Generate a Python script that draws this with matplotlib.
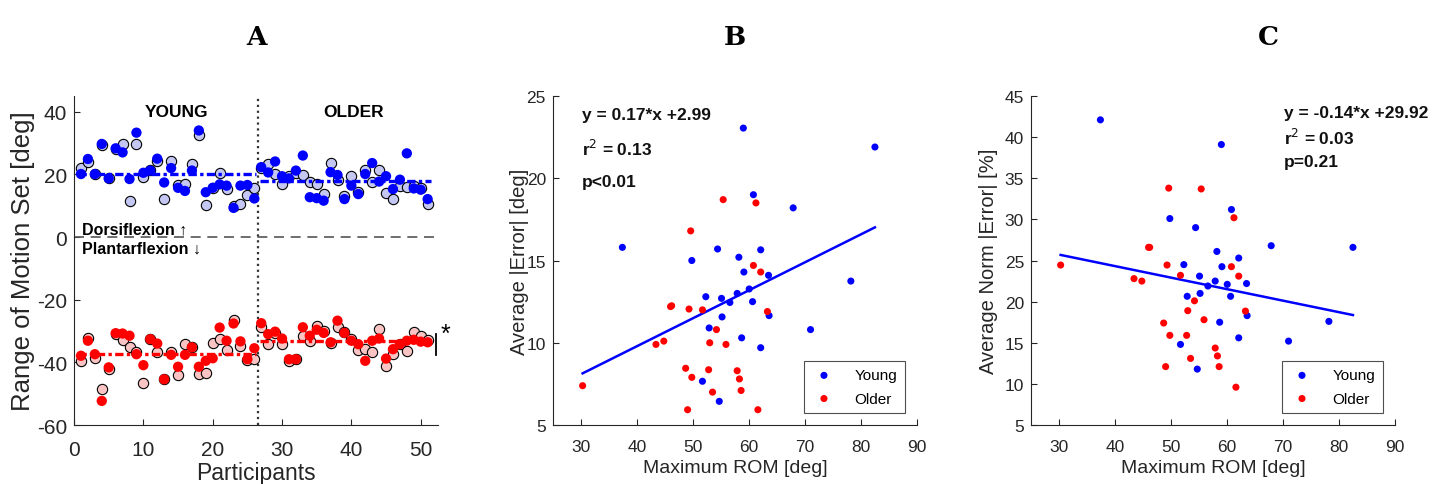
import numpy as np
import matplotlib
matplotlib.use('Agg')
import matplotlib.pyplot as plt

plt.rcParams['font.family'] = ['Liberation Sans', 'DejaVu Sans']
plt.rcParams['axes.unicode_minus'] = False

# ---- panel A data (participants 1-26 young, 27-51 older)
participants = np.arange(1, 52)
dorsi_solid = [20.1, 24.9, 20.1, 29.7, 18.7, 28.3, 27.0, 18.5, 33.3, 20.5,
               21.2, 25.0, 17.4, 22.0, 15.7, 14.7, 21.2, 34.0, 14.3, 15.7,
               16.8, 16.4, 9.3, 16.4, 16.6, 12.3,
               22.3, 20.6, 24.1, 19.4, 18.7, 21.2, 26.0, 12.7, 12.4, 11.6,
               20.7, 19.8, 12.1, 16.4, 13.7, 20.1, 23.6, 17.7, 19.4, 15.3,
               18.3, 26.7, 15.5, 15.1, 12.1]
dorsi_light = [21.9, 23.9, 20.0, 29.5, 18.9, 28.0, 29.7, 11.4, 29.8, 19.0,
               21.3, 24.4, 12.1, 24.4, 16.7, 16.9, 23.3, 32.6, 10.1, 15.8,
               20.4, 15.3, 9.8, 10.6, 13.4, 15.7,
               22.0, 23.3, 20.1, 16.9, 19.4, 20.3, 19.8, 17.7, 16.9, 13.7,
               23.6, 18.3, 13.0, 19.6, 14.5, 21.5, 17.5, 21.5, 14.0, 12.1,
               16.4, 16.0, 16.4, 15.5, 10.5]
plantar_solid = [-37.9, -33.1, -37.4, -52.3, -41.6, -30.7, -30.8, -31.5, -37.4, -40.9,
                 -32.6, -34.0, -45.4, -37.6, -41.4, -37.6, -35.2, -41.4, -39.5, -38.7,
                 -28.9, -33.1, -27.6, -33.3, -39.0, -35.5,
                 -27.5, -31.0, -30.2, -32.4, -39.0, -39.0, -28.8, -31.5, -29.6, -30.6,
                 -33.6, -26.7, -30.6, -33.1, -34.2, -39.5, -33.1, -32.4, -38.8, -35.8,
                 -34.2, -33.1, -32.8, -33.4, -33.6]
plantar_light = [-39.5, -32.1, -38.7, -48.6, -42.2, -30.9, -32.9, -35.0, -36.8, -46.7,
                 -32.4, -36.6, -45.2, -36.6, -44.0, -34.0, -35.0, -43.8, -43.5, -33.9,
                 -32.4, -36.0, -26.5, -34.7, -39.2, -39.0,
                 -28.8, -34.2, -30.5, -34.2, -39.5, -38.8, -31.7, -33.1, -28.5, -29.9,
                 -33.8, -28.8, -30.4, -32.6, -36.0, -35.8, -36.8, -29.2, -41.3, -37.4,
                 -34.0, -36.3, -30.2, -31.5, -32.8]
dorsi_means = [20.0, 17.8]        # young, older
plantar_means = [-37.2, -33.1]
group_split = 26.5

# ---- panels B/C data
young_rom = [59.0, 60.8, 67.9, 37.4, 49.8, 54.4, 58.2, 62.1, 59.1, 63.5, 60.05, 52.3, 55.1,
             57.9, 60.65, 56.6, 55.2, 63.6, 52.9, 58.7, 62.1, 51.7, 54.7, 82.5, 71.0, 78.2]
young_err = [23.05, 19.0, 18.2, 15.8, 15.0, 15.7, 15.2, 15.65, 14.3, 14.1, 13.27, 12.8, 12.7,
             13.0, 12.5, 12.45, 11.57, 11.65, 10.9, 10.3, 9.7, 7.66, 6.44, 21.9, 10.8, 13.75]
young_norm = [39.1, 31.2, 26.8, 42.1, 30.1, 29.0, 26.1, 25.3, 24.25, 22.2, 22.1, 24.5, 23.1,
              22.5, 20.65, 21.9, 21.0, 18.3, 20.65, 17.5, 15.6, 14.8, 11.8, 26.6, 15.2, 17.6]
older_rom = [55.4, 61.25, 49.6, 60.8, 62.1, 46.0, 46.2, 49.3, 51.7, 63.3, 54.2, 43.4, 44.8,
             53.0, 55.9, 48.7, 52.8, 57.9, 49.8, 58.3, 53.5, 58.6, 49.05, 61.6, 30.3]
older_err = [18.7, 18.5, 16.8, 14.7, 14.3, 12.2, 12.25, 12.05, 12.0, 11.9, 10.8, 9.9, 10.1,
             10.0, 9.9, 8.45, 8.36, 8.3, 7.9, 7.8, 7.0, 7.1, 5.93, 5.93, 7.39]
older_norm = [33.7, 30.2, 33.8, 24.25, 23.1, 26.6, 26.6, 24.45, 23.2, 18.85, 20.1, 22.8, 22.5,
              18.9, 17.8, 17.4, 15.9, 14.36, 15.9, 13.4, 13.1, 12.1, 12.1, 9.6, 24.45]
fit_b = (0.17, 2.99)
fit_c = (-0.14, 29.92)

DARK = '#262626'
LIGHT_BLUE = '#c4c7f2'
LIGHT_RED = '#fbc4c4'


def style(ax, fs, xpad):
    for s in ['top', 'right']:
        ax.spines[s].set_visible(False)
    for s in ['left', 'bottom']:
        ax.spines[s].set_color(DARK)
        ax.spines[s].set_linewidth(0.8)
    ax.tick_params(direction='in', length=4, colors=DARK, labelsize=fs, pad=5)
    ax.tick_params(axis='x', pad=xpad)


fig = plt.figure(figsize=(14.49, 4.85), dpi=100)

# ---------------- panel A
axA = fig.add_axes([0.0511, 0.1216, 0.2512, 0.6784])
axA.scatter(participants, dorsi_light, s=55, c=LIGHT_BLUE, edgecolors='k', linewidths=0.8, zorder=3)
axA.scatter(participants, dorsi_solid, s=55, c='blue', edgecolors='none', zorder=4)
axA.scatter(participants, plantar_light, s=55, c=LIGHT_RED, edgecolors='k', linewidths=0.8, zorder=3)
axA.scatter(participants, plantar_solid, s=55, c='red', edgecolors='none', zorder=4)
mdash = (0, (2.5, 1, 1, 1))
axA.plot([0.5, 26.2], [dorsi_means[0]] * 2, color='blue', lw=2.4, ls=mdash, zorder=5)
axA.plot([26.8, 51.5], [dorsi_means[1]] * 2, color='blue', lw=2.4, ls=mdash, zorder=5)
axA.plot([0.5, 26.2], [plantar_means[0]] * 2, color='red', lw=2.4, ls=mdash, zorder=5)
axA.plot([26.8, 51.5], [plantar_means[1]] * 2, color='red', lw=2.4, ls=mdash, zorder=5)
axA.axvline(group_split, color='#333333', ls=':', lw=1.6, zorder=2)
axA.axhline(0, color='#555555', ls=(0, (6, 4)), lw=1.2, zorder=2)
axA.plot([52.2, 52.2], [-37.6, -31.0], color='k', lw=1.3, clip_on=False)
axA.text(52.9, -30.8, '*', fontsize=18, ha='left', va='center', clip_on=False)
axA.text(14.8, 40, 'YOUNG', fontsize=12.5, fontweight='bold', ha='center', va='center')
axA.text(40.3, 40, 'OLDER', fontsize=12.5, fontweight='bold', ha='center', va='center')
axA.text(1.2, 2.6, 'Dorsiflexion \u2191', fontsize=11.5, fontweight='bold', ha='left', va='center')
axA.text(1.2, -3.6, 'Plantarflexion \u2193', fontsize=11.5, fontweight='bold', ha='left', va='center')
axA.set_xlim(0, 52.5)
axA.set_ylim(-60, 45)
axA.set_xticks(np.arange(0, 51, 10))
axA.set_yticks(np.arange(-60, 41, 20))
style(axA, 15, 11)
axA.set_xlabel('Participants', fontsize=16.5, color=DARK, labelpad=1.5)
axA.set_ylabel('Range of Motion Set [deg]', fontsize=18.5, color=DARK)
axA.yaxis.set_label_coords(-0.108, 0.5)


def scatter_panel(rect, young_y, older_y, fit, ylim, yticks, ylabel, lines, text_xy, step, ylab_x):
    ax = fig.add_axes(rect)
    ax.scatter(young_rom, young_y, s=26, c='blue', edgecolors='none', label='Young', zorder=3)
    ax.scatter(older_rom, older_y, s=26, c='red', edgecolors='none', label='Older', zorder=3)
    allx = np.array(young_rom + older_rom)
    xs = np.array([allx.min(), allx.max()])
    ax.plot(xs, fit[0] * xs + fit[1], color='blue', lw=1.8, zorder=2)
    for i, t in enumerate(lines):
        ax.text(text_xy[0], text_xy[1] - i * step, t, fontsize=12.5, fontweight='bold',
                ha='left', va='center', color='#111111')
    ax.set_xlim(25, 90)
    ax.set_ylim(*ylim)
    ax.set_xticks(np.arange(30, 91, 10))
    ax.set_yticks(yticks)
    style(ax, 12.5, 10)
    ax.set_xlabel('Maximum ROM [deg]', fontsize=14, color=DARK, labelpad=4)
    ax.set_ylabel(ylabel, fontsize=14.5, color=DARK)
    ax.yaxis.set_label_coords(ylab_x, 0.5)
    leg = ax.legend(loc='lower right', bbox_to_anchor=(0.967, 0.036), borderaxespad=0,
                    fontsize=11, frameon=True, fancybox=False, handletextpad=1.2,
                    borderpad=0.5, labelspacing=0.6, handlelength=1.6, markerscale=1.0)
    leg.get_frame().set_edgecolor('#222222')
    leg.get_frame().set_linewidth(0.8)
    return ax


scatter_panel([0.3816, 0.1216, 0.2512, 0.6784], young_err, older_err, fit_b, (5, 25),
              np.arange(5, 26, 5), 'Average |Error| [deg]',
              ['y = 0.17*x +2.99', 'r$^{2}$ = 0.13', 'p<0.01'], (30.2, 23.9), 2.05, -0.066)
scatter_panel([0.7115, 0.1216, 0.2512, 0.6784], young_norm, older_norm, fit_c, (5, 45),
              np.arange(5, 46, 5), 'Average Norm |Error| [%]',
              ['y = -0.14*x +29.92', 'r$^{2}$ = 0.03', 'p=0.21'], (70.2, 43.0), 3.0, -0.09)

for lbl, xp in [('A', 256), ('B', 735), ('C', 1268)]:
    fig.text(xp / 1449, 1 - 38 / 485, lbl, fontsize=19, fontweight='bold',
             family=['DejaVu Serif'], ha='center', va='center')

fig.savefig('out.png', dpi=100)
